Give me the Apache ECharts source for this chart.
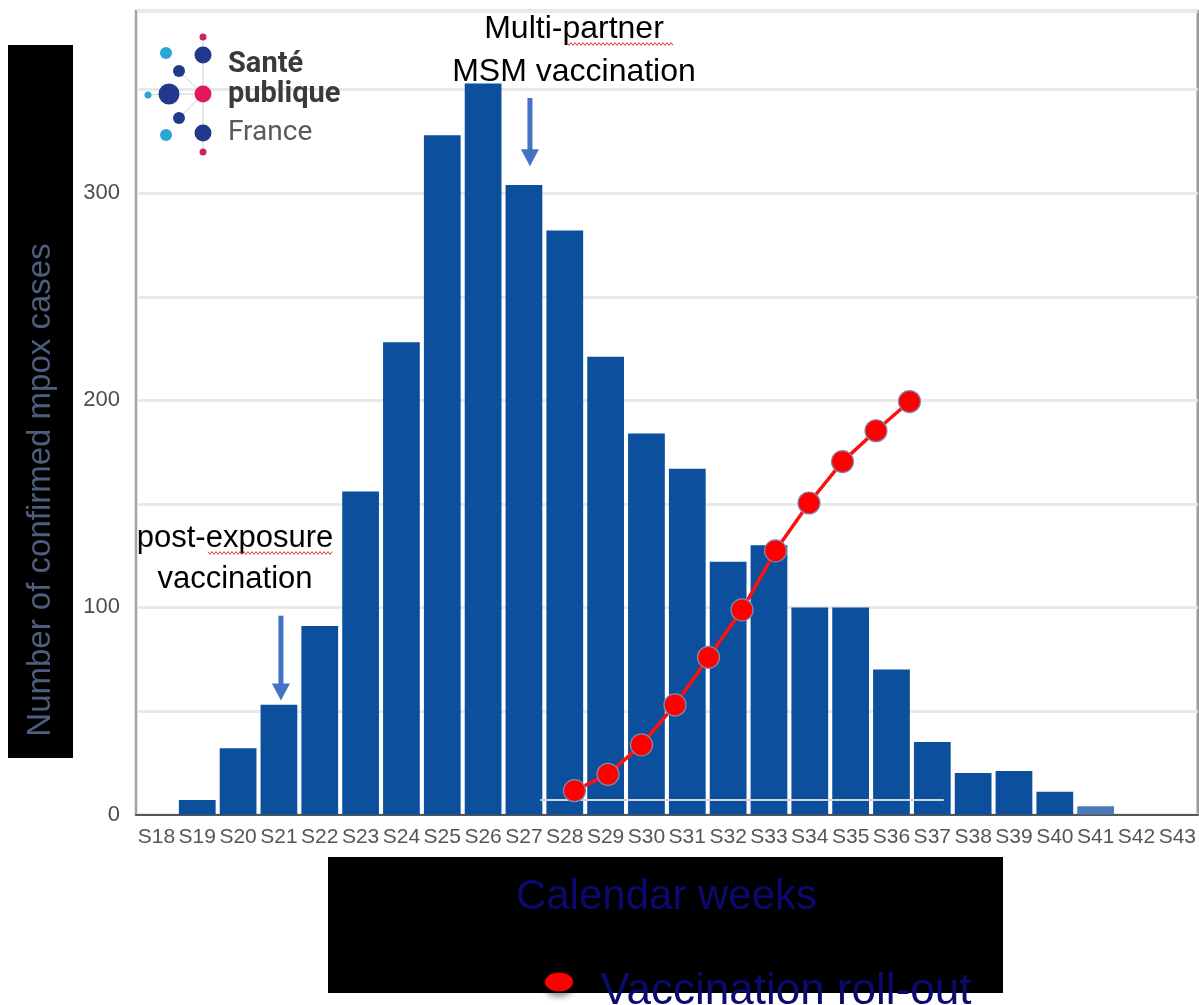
<!DOCTYPE html>
<html>
<head>
<meta charset="utf-8">
<script src="https://cdn.jsdelivr.net/npm/echarts@6/dist/echarts.min.js"></script>
<style>
html,body{margin:0;padding:0;background:#fff}
#chart{width:1199px;height:1005px}
</style>
</head>
<body>
<div id="chart"></div>
<script>
// Weekly confirmed mpox cases (France), calendar weeks S18–S43
const weeks = ['S18','S19','S20','S21','S22','S23','S24','S25','S26','S27','S28','S29','S30',
               'S31','S32','S33','S34','S35','S36','S37','S38','S39','S40','S41','S42','S43'];
const cases = [0, 7, 32, 53, 91, 156, 228, 328, 353, 304, 282, 221, 184,
               167, 122, 130, 100, 100, 70, 35, 20, 21, 11, 4, 0, 0];
// Partial (still consolidating) week
const partialWeek = 'S41';

// Vaccination roll-out curve, drawn on its own small axis
const rolloutSteps = ['0','1','2','3','4','5','6','7','8','9','10','11','12'];
const rollout = [null, 4.5, 12.4, 26.6, 45.9, 68.9, 91.8, 120.3, 143.4, 163.4, 178.3, 192.4, null];

// Labelled ticks on the case axis
const yTicks = [0, 100, 200, 300];

const TEXT_FONT = '"Liberation Sans", Arial, sans-serif';

const chart = echarts.init(document.getElementById('chart'), null, {renderer: 'canvas'});

chart.setOption({
  animation: false,
  backgroundColor: '#ffffff',
  grid: [
    {left: 136, right: 1, top: 11, bottom: 190.5, show: true,
     borderColor: '#9c9c9c', borderWidth: 2.5, backgroundColor: 'transparent'},
    {left: 541, right: 256, top: 13, bottom: 205}
  ],
  xAxis: [
    {type: 'category', gridIndex: 0, data: weeks, boundaryGap: true,
     axisLine: {lineStyle: {color: '#555555', width: 2}},
     axisTick: {show: false},
     axisLabel: {interval: 0, color: '#555555', fontSize: 21, fontFamily: TEXT_FONT, margin: 12}},
    {type: 'category', gridIndex: 1, data: rolloutSteps, boundaryGap: false, z: 3,
     axisLine: {lineStyle: {color: '#d4d4d4', width: 2}},
     axisTick: {show: false}, axisLabel: {show: false}, splitLine: {show: false}}
  ],
  yAxis: [
    {type: 'value', gridIndex: 0, min: 0, max: 388, interval: 50,
     axisLine: {show: true, lineStyle: {color: '#a3a3a3', width: 2}},
     axisTick: {show: false},
     splitLine: {lineStyle: {color: '#e9e9e9', width: 3}},
     axisLabel: {color: '#4d4d4d', fontSize: 22, fontFamily: TEXT_FONT, margin: 16,
                 formatter: v => yTicks.includes(v) ? String(v) : ''}},
    {type: 'value', gridIndex: 1, min: 0, max: 380, show: false}
  ],
  series: [
    {type: 'bar', xAxisIndex: 0, yAxisIndex: 0, barCategoryGap: '10%',
     itemStyle: {color: '#0b4f9d'},
     data: cases.map((v, i) => weeks[i] === partialWeek
       ? {value: v, itemStyle: {color: '#4a7cb8'}} : v)},
    {type: 'line', xAxisIndex: 1, yAxisIndex: 1, data: rollout, z: 5,
     symbol: 'circle', symbolSize: 22, showSymbol: true, showAllSymbol: true,
     lineStyle: {color: '#ff1010', width: 3.5},
     itemStyle: {color: '#ff0000', borderColor: '#7d8bb5', borderWidth: 1.2}}
  ]
});

// ---- annotations, logo and caption boxes ----
function arrow(x, yTop, yTip) {
  return {type: 'group', children: [
    {type: 'line', shape: {x1: x, y1: yTop, x2: x, y2: yTip - 14},
     style: {stroke: '#4472c4', lineWidth: 5}},
    {type: 'polygon', shape: {points: [[x - 9, yTip - 17], [x + 9, yTip - 17], [x, yTip]]},
     style: {fill: '#4472c4'}}
  ]};
}
function squiggle(x1, x2, y) {
  const pts = [];
  for (let x = x1, i = 0; x <= x2; x += 2, i++) pts.push([x, y + (i % 2 ? 1.4 : -1.4)]);
  return {type: 'polyline', shape: {points: pts}, style: {stroke: '#e23a3a', lineWidth: 1, fill: null}};
}
function label(text, x, y, size, color, opts) {
  opts = opts || {};
  return {type: 'text', z: opts.z || 0, style: {
    text: text, x: x, y: y, fill: color,
    font: (opts.weight ? opts.weight + ' ' : '') + size + 'px ' + (opts.family || TEXT_FONT),
    textAlign: opts.align || 'center', textVerticalAlign: 'middle'}};
}

const px = (cat, val) => chart.convertToPixel({xAxisIndex: 0, yAxisIndex: 0}, [cat, val]);
const a1Top = px('S27', 346), a1Tip = px('S27', 313);
const a2Top = px('S21', 96), a2Tip = px('S21', 55);

// Logo dots: [cx, cy, r, colour]
const logoDots = [
  [203, 37, 3.5, '#c9245c'], [166, 53, 6, '#2aa6d6'], [203, 55, 8.5, '#21388c'],
  [179, 71, 6, '#21388c'], [148, 95, 3.5, '#2aa6d6'], [169, 94, 10.5, '#21388c'],
  [203, 94, 8.5, '#e3175d'], [179, 118, 6, '#21388c'], [166, 135, 6, '#2aa6d6'],
  [203, 133, 8.5, '#21388c'], [203, 152, 3.5, '#c9245c']
];
const thin = {stroke: '#cfd0da', lineWidth: 1};
const logo = [
  {type: 'line', shape: {x1: 203, y1: 37, x2: 203, y2: 152}, style: thin},
  {type: 'line', shape: {x1: 203, y1: 94, x2: 179, y2: 71}, style: thin},
  {type: 'line', shape: {x1: 203, y1: 94, x2: 169, y2: 94}, style: thin},
  {type: 'line', shape: {x1: 203, y1: 94, x2: 179, y2: 118}, style: thin},
  {type: 'line', shape: {x1: 148, y1: 95, x2: 169, y2: 94}, style: thin}
].concat(logoDots.map(d => ({type: 'circle', shape: {cx: d[0], cy: d[1], r: d[2]}, style: {fill: d[3]}})))
 .concat([
  label('Santé', 228, 65, 29, '#3a3a3a', {weight: 'bold', align: 'left', family: 'Roboto, sans-serif'}),
  label('publique', 228, 95, 29, '#3a3a3a', {weight: 'bold', align: 'left', family: 'Roboto, sans-serif'}),
  label('France', 228, 133, 28, '#5a5a5a', {align: 'left', family: 'Roboto, sans-serif'})
]);

chart.setOption({graphic: [
  // y-axis caption box
  {type: 'rect', shape: {x: 8, y: 45, width: 65, height: 713}, style: {fill: '#000'}, z: 10},
  {type: 'text', x: 40.5, y: 490, rotation: Math.PI / 2, z: 11,
   style: {text: 'Number of confirmed mpox cases', x: 0, y: 0, fill: '#4d5f7f',
           font: '33px ' + TEXT_FONT, textAlign: 'center', textVerticalAlign: 'middle'}},
  // x-axis caption box and legend
  {type: 'rect', shape: {x: 328, y: 857, width: 675, height: 136}, style: {fill: '#000'}, z: 10},
  label('Calendar weeks', 666.5, 897, 42, '#0a0a70', {z: 11}),
  {type: 'ellipse', shape: {cx: 559, cy: 982, rx: 14, ry: 9.5}, z: 11,
   style: {fill: '#ff0000', shadowBlur: 6, shadowColor: 'rgba(0,0,0,0.45)', shadowOffsetY: 5}},
  label('Vaccination roll-out', 786, 992, 44, '#0a0a70', {z: 11}),
  // annotations
  label('Multi-partner', 574, 29, 32, '#000'),
  label('MSM vaccination', 574, 72, 32, '#000'),
  squiggle(567, 673, 44),
  arrow(a1Top[0] + 6, a1Top[1], a1Tip[1]),
  label('post-exposure', 235, 538, 31, '#000'),
  label('vaccination', 235, 579, 31, '#000'),
  squiggle(208, 333, 553),
  arrow(a2Top[0] + 2, a2Top[1], a2Tip[1])
].concat(logo)});
</script>
</body>
</html>
